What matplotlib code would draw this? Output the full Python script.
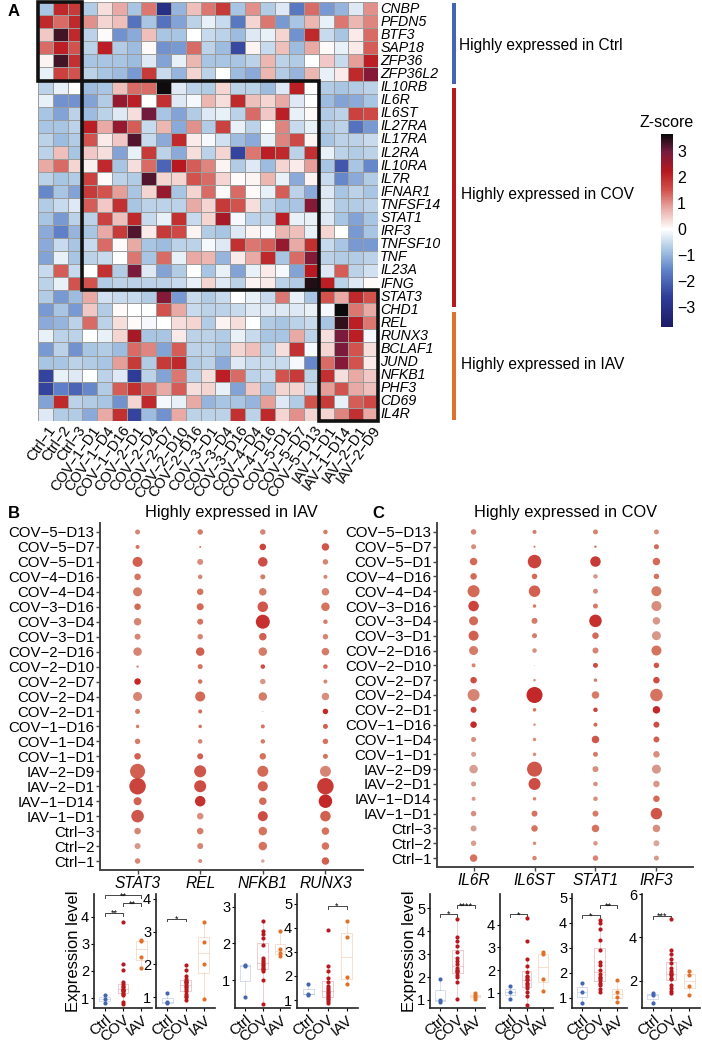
import numpy as np
import matplotlib
matplotlib.use('Agg')
import matplotlib.pyplot as plt
from matplotlib.colors import LinearSegmentedColormap
from matplotlib.patches import Rectangle

plt.rcParams['font.family'] = ['Liberation Sans', 'DejaVu Sans']

# ---------------- data ----------------
samples = ['Ctrl−1', 'Ctrl−2', 'Ctrl−3',
           'COV−1−D1', 'COV−1−D4', 'COV−1−D16', 'COV−2−D1', 'COV−2−D4', 'COV−2−D7',
           'COV−2−D10', 'COV−2−D16', 'COV−3−D1', 'COV−3−D4', 'COV−3−D16', 'COV−4−D4',
           'COV−4−D16', 'COV−5−D1', 'COV−5−D7', 'COV−5−D13',
           'IAV−1−D1', 'IAV−1−D14', 'IAV−2−D1', 'IAV−2−D9']

genes = ['CNBP', 'PFDN5', 'BTF3', 'SAP18', 'ZFP36', 'ZFP36L2',
         'IL10RB', 'IL6R', 'IL6ST', 'IL27RA', 'IL17RA', 'IL2RA', 'IL10RA', 'IL7R',
         'IFNAR1', 'TNFSF14', 'STAT1', 'IRF3', 'TNFSF10', 'TNF', 'IL23A', 'IFNG',
         'STAT3', 'CHD1', 'REL', 'RUNX3', 'BCLAF1', 'JUND', 'NFKB1', 'PHF3', 'CD69', 'IL4R']

zscore = [
    [-0.8, 2.0, 1.8, -0.7, 0.3, 0.8, -0.8, 1.2, -3.0, -1.0, 0.6, 1.2, 1.8, -0.8, 1.0, -0.7, -0.3, -1.7, 1.3, -1.3, -1.0, -0.3, 1.0],
    [2.0, 1.3, 2.0, 1.0, 0.4, 0.6, -1.8, -0.8, -1.8, -1.2, -0.6, -0.2, -0.5, -1.7, 0.4, 1.2, -1.3, -0.8, 0.7, -0.2, 1.2, 0.7, 1.1],
    [0.5, 3.3, 2.0, -0.6, 0.05, -1.4, -1.1, 0.6, -0.8, -0.8, 0.0, -0.5, -0.6, -0.9, -0.3, -0.2, 0.4, -1.4, 2.0, -0.5, -0.8, 0.2, 1.3],
    [1.3, 2.1, 1.5, -0.6, 2.1, -0.7, -0.9, 0.05, -1.4, -1.3, 1.3, -0.6, -0.9, -2.4, 0.1, -0.5, 0.6, -0.9, 0.8, 0.05, -0.2, 0.2, 1.4],
    [0.1, 3.3, 1.9, -0.8, -0.8, -0.8, -0.9, -0.3, -1.2, -0.2, 0.7, -0.8, -0.8, -0.8, -0.6, 0.7, -0.6, -0.7, 0.0, 0.5, -0.5, 0.9, 2.1],
    [-0.2, 1.7, 1.5, -0.6, -0.8, -0.9, -1.3, 1.8, -0.5, -1.0, 0.4, -0.6, 0.0, -0.9, -1.1, 0.7, -0.7, -1.0, 0.7, -0.2, 0.2, 2.0, 2.8],
    [-0.6, -0.2, 0.0, -0.9, -0.8, 0.6, 1.3, 1.3, 3.6, -0.3, -0.6, -0.7, 0.4, -0.6, -0.6, -0.9, -0.3, 2.1, 0.0, -0.7, -0.8, -0.7, -0.6],
    [-0.2, -1.4, -1.4, -1.2, -0.7, 2.6, 2.1, 0.0, 1.9, -0.3, -0.1, 0.7, 0.3, 2.0, 0.6, 0.4, 0.8, -0.3, 0.0, -0.9, -1.2, -1.1, -0.8],
    [-0.8, -1.2, -0.6, -0.9, -0.6, -0.3, 0.3, 3.0, -0.8, -1.2, -0.7, -0.3, -0.2, -0.6, 1.3, 0.5, 2.1, -0.2, 0.05, -0.7, -0.6, 1.7, 1.6],
    [-0.8, -0.8, -0.6, 2.1, 0.8, 2.6, 1.4, -0.5, 0.7, -1.1, 1.0, -0.7, 1.7, -0.2, -0.6, 0.0, 1.1, -0.5, -0.2, -0.7, -0.6, -1.8, -1.3],
    [-0.6, -0.9, -0.7, 1.5, 0.2, 0.5, 3.2, -0.5, -1.1, 2.0, 0.2, -0.1, -0.4, -0.9, -1.1, -0.2, 1.1, 1.6, 0.1, -0.8, -0.6, -0.6, -0.5],
    [-0.6, 0.6, -0.8, 0.5, 0.3, -1.2, -0.2, 1.8, -0.6, -1.1, 0.3, -0.6, 0.4, -2.5, 1.2, 2.1, 2.0, -0.6, 1.9, -0.2, -0.6, -0.7, -0.6],
    [0.8, 1.3, 0.4, 0.15, 2.0, -0.8, 0.3, 1.3, -2.0, 2.2, 1.4, 1.1, 0.1, -0.7, -0.3, -0.9, 0.4, 0.2, 0.9, -0.8, -2.2, -0.8, -1.5],
    [-0.6, -0.8, -0.7, 1.7, 0.05, -0.6, -0.7, 3.2, 0.4, 0.4, 1.5, 1.3, 0.4, 0.05, 0.1, 0.7, -0.2, -1.1, 0.1, -0.5, -1.5, -1.1, -0.7],
    [-1.5, -0.8, -1.2, 1.8, 1.5, 0.9, -0.8, 0.4, 2.6, -0.8, 0.4, 1.3, 0.05, 1.3, 0.05, -0.2, 1.4, -0.6, -1.1, -0.3, -0.8, -0.6, -0.8],
    [-0.7, -0.5, -0.3, 1.4, 0.5, 1.9, -0.8, -0.6, -0.6, -0.6, 0.8, 0.4, 1.8, 1.5, 0.3, -0.6, -0.8, -0.8, 2.8, -0.3, -0.7, -0.7, -0.6],
    [-0.8, -1.3, -0.6, -0.6, 1.7, 0.6, 2.0, -0.5, -0.2, 1.9, -0.5, 0.4, 2.4, -0.1, -0.6, -0.6, 2.1, -0.2, -0.2, -0.3, -0.8, -1.2, -0.8],
    [-1.1, -1.6, -1.0, -0.8, 0.8, 1.8, 3.2, 0.2, 1.8, 1.6, 0.1, -0.7, -0.8, -0.3, 0.1, -0.1, 0.7, 0.6, -0.2, 0.4, 0.0, -1.3, -0.8],
    [-1.1, -0.5, -0.8, -0.5, 1.3, 0.05, 0.8, -0.8, -0.9, -0.6, -0.6, -0.1, -0.3, 1.9, 1.2, 1.4, 2.6, 0.8, 1.9, -0.5, -0.8, -1.3, -1.3],
    [-1.2, -0.2, -0.8, -0.6, -0.5, 0.0, 1.2, -0.8, 1.3, -0.2, 0.8, 0.7, -1.0, 0.2, 0.8, 2.0, -0.8, 1.3, 2.8, -0.6, -0.7, -0.7, -0.6],
    [-0.5, 1.4, -0.5, 0.0, 1.9, -0.7, 2.9, -0.3, -1.2, -0.7, 0.0, -0.8, -0.2, -1.2, -0.2, 0.2, -0.1, -1.2, 2.2, -0.3, 1.4, -0.6, -0.4],
    [-0.6, -0.2, 1.5, 1.5, -0.7, -0.6, -0.6, -0.6, -0.6, -0.5, -0.2, 0.4, -0.3, -0.6, 0.1, 0.2, -0.6, -0.7, 3.5, 2.1, -0.6, -0.3, 0.05],
    [-0.7, -1.3, -0.9, 0.8, -0.4, -0.5, -0.5, -0.7, 2.8, -1.3, -0.5, -0.7, -0.5, 0.0, -0.2, -0.5, 1.2, -0.2, -0.8, 1.5, 0.8, 2.0, 1.5],
    [-1.3, -0.8, -1.3, 0.5, -0.7, 0.05, 0.0, 0.0, 1.5, 0.8, -0.5, -0.6, -0.6, -0.5, -0.3, -0.3, -0.3, -0.3, -0.2, -0.1, 3.7, 1.2, 0.8],
    [-1.1, -1.0, -0.6, 1.3, -0.6, 0.3, 0.05, -0.1, 0.0, 0.3, 0.4, -0.7, 0.1, 0.3, 0.0, -0.7, -0.8, -0.6, -0.5, -0.8, 3.4, 2.1, 1.2],
    [-0.2, -0.6, -0.6, 0.0, -0.2, 0.4, 2.4, -0.8, -0.8, 0.2, -0.6, -0.6, -0.7, -0.2, -0.5, -0.8, -0.8, 0.8, -0.6, 0.3, 2.9, 2.1, -0.1],
    [-1.3, -0.6, -1.4, -0.8, -0.7, -0.9, 1.3, 1.1, -1.2, 1.4, -0.6, -0.6, -0.8, 0.4, 0.6, -0.6, 0.3, 1.9, -0.1, 0.4, 2.9, 1.5, 0.3],
    [-0.8, -0.8, -0.6, -0.7, -0.8, 0.9, 1.8, -0.7, 1.8, 2.0, -0.7, -0.6, -1.1, -0.3, -0.5, -0.5, -0.5, -0.1, -1.5, 1.3, 2.8, 1.5, 0.2],
    [-2.5, -0.2, -0.3, 0.0, -0.6, -0.3, -2.6, -0.6, -1.2, 1.2, -0.6, 0.3, 2.1, 1.3, -0.6, -0.5, 1.5, 1.8, -0.6, 1.9, 0.3, 0.8, 0.5],
    [-2.5, -1.6, -2.0, -1.5, -0.7, 1.4, 1.9, 1.3, 0.8, 1.4, 0.3, 0.4, -0.2, -1.2, 0.5, -0.8, 0.4, 0.4, -0.5, 0.9, 1.5, 0.8, 0.6],
    [-1.2, 2.0, -0.6, -0.7, -0.8, -1.4, 0.4, 2.0, -0.1, -0.2, 0.8, -1.0, -0.8, -0.8, -1.0, 0.9, -0.3, -0.7, 1.5, 1.8, -0.2, 1.4, 1.6],
    [-0.3, -0.7, -0.7, -1.1, 0.8, 1.9, -2.5, -0.9, -1.4, 0.8, -0.6, -0.6, -0.6, 1.9, -0.6, 2.0, 0.4, 1.0, 0.4, 0.4, 1.1, 1.9, 0.8],
]

group_names = ['Ctrl', 'COV', 'IAV']
group_colors = ['#4466b0', '#b7191f', '#e0712a']
group_texts = ['Highly expressed in Ctrl', 'Highly expressed in COV', 'Highly expressed in IAV']

# dot plots: rows listed from top to bottom
dot_rows = ['COV−5−D13', 'COV−5−D7', 'COV−5−D1', 'COV−4−D16', 'COV−4−D4', 'COV−3−D16',
            'COV−3−D4', 'COV−3−D1', 'COV−2−D16', 'COV−2−D10', 'COV−2−D7', 'COV−2−D4',
            'COV−2−D1', 'COV−1−D16', 'COV−1−D4', 'COV−1−D1', 'IAV−2−D9', 'IAV−2−D1',
            'IAV−1−D14', 'IAV−1−D1', 'Ctrl−3', 'Ctrl−2', 'Ctrl−1']

iav_genes = ['STAT3', 'REL', 'NFKB1', 'RUNX3']
iav_size = {
    'STAT3': [5, 4, 10, 6.5, 9, 6.5, 7.5, 6, 8.5, 2.5, 6.5, 9, 5, 3.5, 5.5, 6.5, 15, 16.5, 8, 12.5, 6.5, 6, 5.5],
    'REL':   [5.5, 2, 6, 4.5, 6.5, 7, 6, 5.5, 8.5, 5, 4.5, 10, 4, 3.5, 4.5, 6, 12, 12, 10.5, 6.5, 6.5, 6, 4],
    'NFKB1': [5.5, 6.5, 9.5, 5, 7.5, 10.5, 14, 7.5, 8.5, 4.5, 5.5, 8.5, 1, 4, 4.5, 6.5, 11, 10, 7.5, 10, 8.5, 8.5, 3.5],
    'RUNX3': [4.5, 7.5, 5.5, 4, 7.5, 8.5, 4.5, 5.5, 7.5, 4.5, 4, 7.5, 5.5, 5, 5.5, 5, 11, 16.5, 13.5, 10.5, 7.5, 7.5, 7.5],
}
iav_expr = {
    'STAT3': [0.4, 0.5, 0.6, 0.5, 0.45, 0.55, 0.4, 0.4, 0.4, 0.3, 0.9, 0.4, 0.45, 0.45, 0.45, 0.6, 0.6, 0.75, 0.6, 0.65, 0.4, 0.3, 0.4],
    'REL':   [0.45, 0.5, 0.35, 0.4, 0.5, 0.55, 0.5, 0.4, 0.6, 0.5, 0.5, 0.55, 0.55, 0.5, 0.4, 0.6, 0.65, 0.7, 0.85, 0.35, 0.45, 0.4, 0.35],
    'NFKB1': [0.4, 0.75, 0.7, 0.45, 0.45, 0.65, 0.85, 0.6, 0.45, 0.7, 0.3, 0.45, 0.2, 0.5, 0.45, 0.5, 0.55, 0.6, 0.55, 0.7, 0.5, 0.5, 0.2],
    'RUNX3': [0.45, 0.65, 0.4, 0.4, 0.4, 0.5, 0.45, 0.4, 0.45, 0.55, 0.4, 0.35, 0.9, 0.6, 0.5, 0.5, 0.4, 0.8, 0.9, 0.6, 0.5, 0.5, 0.6],
}

cov_genes = ['IL6R', 'IL6ST', 'STAT1', 'IRF3']
cov_size = {
    'IL6R':  [5.5, 5, 7.5, 6.5, 12, 10.5, 9, 10, 9, 4, 6.5, 12, 6, 6.5, 5, 5, 8.5, 5, 4, 5.5, 6, 5.5, 7.5],
    'IL6ST': [4, 2, 13.5, 5.5, 11.5, 3.5, 6, 5, 4.5, 0.7, 2.5, 16, 3.5, 2.5, 3.5, 3.5, 15, 12, 3.5, 6, 6.5, 3.5, 4.5],
    'STAT1': [5, 2.5, 10.5, 4.5, 5, 5, 12.5, 6.5, 6, 5, 3.5, 7.5, 4.5, 4, 7.5, 5, 6, 4.5, 4.5, 6, 7.5, 4.5, 5.5],
    'IRF3':  [5, 5, 7.5, 5.5, 10, 10, 7.5, 9, 10, 5.5, 6.5, 12.5, 7.5, 6, 6, 6.5, 9, 6.5, 6.5, 11.5, 7.5, 6, 5],
}
cov_expr = {
    'IL6R':  [0.4, 0.35, 0.55, 0.55, 0.55, 0.75, 0.55, 0.6, 0.45, 0.4, 0.7, 0.4, 0.75, 0.9, 0.35, 0.25, 0.25, 0.3, 0.3, 0.35, 0.25, 0.25, 0.5],
    'IL6ST': [0.45, 0.5, 0.75, 0.55, 0.6, 0.45, 0.45, 0.45, 0.35, 0.3, 0.35, 0.9, 0.5, 0.35, 0.35, 0.35, 0.65, 0.7, 0.4, 0.5, 0.5, 0.35, 0.4],
    'STAT1': [0.4, 0.45, 0.8, 0.3, 0.35, 0.45, 0.85, 0.55, 0.4, 0.7, 0.45, 0.45, 0.75, 0.55, 0.65, 0.45, 0.35, 0.35, 0.35, 0.45, 0.5, 0.3, 0.4],
    'IRF3':  [0.35, 0.55, 0.55, 0.5, 0.45, 0.35, 0.3, 0.3, 0.5, 0.65, 0.7, 0.5, 0.9, 0.7, 0.6, 0.35, 0.3, 0.3, 0.55, 0.65, 0.35, 0.2, 0.3],
}

# expression level per group (Ctrl, COV, IAV)
box_data = {
    'STAT3': [[1.12, 0.98, 0.8],
              [3.8, 2.25, 2.05, 1.6, 1.5, 1.45, 1.35, 1.3, 1.25, 1.2, 1.15, 1.3, 1.4, 1.1, 0.85, 0.78],
              [3.15, 3.1, 2.5, 2.1]],
    'REL':   [[1.12, 0.85, 0.82],
              [1.97, 1.82, 1.65, 1.55, 1.5, 1.45, 1.45, 1.4, 1.35, 1.3, 1.25, 1.2, 1.1, 1.05, 1.0, 0.92],
              [3.3, 2.7, 2.0, 0.95]],
    'NFKB1': [[1.42, 1.38, 0.55],
              [2.6, 2.35, 2.25, 2.15, 1.95, 1.6, 1.55, 1.5, 1.45, 1.4, 1.35, 1.3, 1.3, 1.25, 1.0, 0.35],
              [2.35, 1.85, 1.75, 1.65]],
    'RUNX3': [[1.67, 1.27, 1.2],
              [3.9, 2.4, 2.2, 1.9, 1.75, 1.6, 1.5, 1.4, 1.35, 1.3, 1.2, 1.15, 1.1, 1.05, 0.95, 0.87],
              [4.3, 3.6, 1.95, 1.65]],
    'IL6R':  [[1.9, 1.0, 0.92],
              [4.53, 3.75, 3.55, 3.35, 3.1, 2.85, 2.7, 2.55, 2.4, 2.3, 2.25, 2.2, 2.1, 2.0, 1.8, 1.05],
              [1.3, 1.2, 1.15, 1.05]],
    'IL6ST': [[1.3, 1.05, 0.72],
              [4.3, 3.3, 2.5, 2.2, 1.9, 1.75, 1.7, 1.6, 1.55, 1.45, 1.4, 1.3, 1.2, 1.05, 0.85, 0.45],
              [2.8, 2.7, 1.6, 1.1]],
    'STAT1': [[1.6, 1.25, 0.8],
              [4.1, 4.0, 3.75, 3.3, 2.9, 2.45, 2.3, 2.1, 1.95, 1.85, 1.8, 1.7, 1.6, 1.5, 1.35, 1.25],
              [1.7, 1.25, 1.05, 0.85]],
    'IRF3':  [[1.45, 1.35, 1.0],
              [4.85, 3.4, 3.25, 3.0, 2.8, 2.6, 2.45, 2.35, 2.3, 2.25, 2.15, 2.1, 1.8, 1.65, 1.55, 1.45],
              [2.45, 2.25, 1.75, 1.35]],
}
# significance: (group a, group b, height, label)
box_sig = {
    'STAT3': [(1, 2, 4.15, '**'), (2, 3, 4.5, '**'), (1, 3, 4.8, '**')],
    'REL':   [(1, 2, 3.4, '*')],
    'NFKB1': [],
    'RUNX3': [(2, 3, 4.9, '*')],
    'IL6R':  [(1, 2, 4.75, '*'), (2, 3, 5.13, '****')],
    'IL6ST': [(1, 2, 4.45, '*')],
    'STAT1': [(1, 2, 4.3, '*'), (2, 3, 4.7, '**')],
    'IRF3':  [(1, 2, 5.0, '***')],
}

# ---------------- layout helpers ----------------
W, H = 702, 1043
fig = plt.figure(figsize=(W / 100, H / 100), dpi=100)


def px_axes(x0, y0, x1, y1):
    return fig.add_axes([x0 / W, 1 - y1 / H, (x1 - x0) / W, (y1 - y0) / H])


# ---------------- A: heatmap ----------------
z = np.array(zscore)
vmin, vmax = -3.75, 3.65
stops = [(-3.75, '#1b1b66'), (-2.6, '#2f3c99'), (-1.6, '#5f80c8'), (-0.8, '#a7c5e3'),
         (0.0, '#ffffff'), (0.8, '#e9aaa5'), (1.5, '#d2524d'), (2.2, '#b8181f'),
         (3.0, '#741b3e'), (3.65, '#0a0a0a')]
hm_cmap = LinearSegmentedColormap.from_list(
    'zs', [((v - vmin) / (vmax - vmin), c) for v, c in stops])

ax = px_axes(38, 2, 378, 421)
mesh = ax.pcolormesh(np.arange(len(samples) + 1), np.arange(len(genes) + 1), z,
                     cmap=hm_cmap, vmin=vmin, vmax=vmax,
                     edgecolors='#9c9c9c', linewidth=0.7)
ax.set_xlim(0, len(samples))
ax.set_ylim(len(genes), 0)
ax.axis('off')

# cluster boxes
n_s = [3, 16, 4]
n_g = [6, 16, 10]
cs, gs = 0, 0
for k in range(3):
    ax.add_patch(Rectangle((cs, gs), n_s[k], n_g[k], fill=False, ec='#111111',
                           lw=2.6, clip_on=False, zorder=5))
    cs += n_s[k]
    gs += n_g[k]

for i, g in enumerate(genes):
    ax.text(len(samples) + 0.15, i + 0.5, g, style='italic', ha='left', va='center',
            fontsize=10.2)
for j, s in enumerate(samples):
    ax.text(j + 0.6, len(genes) + 0.2, s, rotation=55, ha='right', va='top',
            rotation_mode='anchor', fontsize=10.5)

# side annotation bars
bar_spans = [(0.05, 6.3), (6.6, 23.3), (23.7, 31.9)]
text_rows = [3.3, 14.7, 27.7]
for k in range(3):
    y0, y1 = bar_spans[k]
    ax.add_patch(Rectangle((28.0, y0), 0.28, y1 - y0, color=group_colors[k],
                           clip_on=False, lw=0))
    ax.text(28.5 if k == 0 else 28.6, text_rows[k], group_texts[k], ha='left',
            va='center', fontsize=11.2, clip_on=False)

cax = px_axes(661, 134, 673, 327)
cb = fig.colorbar(mesh, cax=cax, ticks=[-3, -2, -1, 0, 1, 2, 3])
cb.outline.set_visible(False)
cb.ax.set_yticklabels(['−3', '−2', '−1', '0', '1', '2', '3'])
cax.tick_params(length=0, labelsize=11.5, pad=3)
cax.set_title('Z-score', fontsize=11.5, pad=5)

fig.text(8 / W, 1 - 12 / H, 'A', fontsize=12, fontweight='bold', va='center')
fig.text(8 / W, 1 - 513 / H, 'B', fontsize=12, fontweight='bold', va='center')
fig.text(372 / W, 1 - 513 / H, 'C', fontsize=12, fontweight='bold', va='center')

# ---------------- B / C: dot plots ----------------
dot_cmap = LinearSegmentedColormap.from_list('dot', ['#dacbca', '#d5735f', '#c0141b'])


def dot_plot(axd, gene_list, sizes, exprs, title):
    n = len(dot_rows)
    for gi, g in enumerate(gene_list):
        ys = n - 1 - np.arange(n)
        d = np.array(sizes[g])
        axd.scatter(np.full(n, gi), ys, s=(d * 0.72) ** 2, c=exprs[g], cmap=dot_cmap,
                    vmin=0, vmax=1, linewidths=0)
    axd.set_xlim(-0.6, len(gene_list) - 0.4)
    axd.set_ylim(-0.6, n - 0.4)
    axd.set_yticks(n - 1 - np.arange(n))
    axd.set_yticklabels(dot_rows, fontsize=10.8)
    axd.set_xticks(range(len(gene_list)))
    axd.set_xticklabels(gene_list, fontsize=11.2, style='italic')
    for sp in ['top', 'right']:
        axd.spines[sp].set_visible(False)
    for sp in ['left', 'bottom']:
        axd.spines[sp].set_color('#444444')
        axd.spines[sp].set_linewidth(1.4)
    axd.tick_params(length=3, width=1, color='#444444', pad=1)
    axd.set_title(title, fontsize=11.8, pad=4)


axB = px_axes(100, 523, 363, 870)
dot_plot(axB, iav_genes, iav_size, iav_expr, 'Highly expressed in IAV')
axC = px_axes(437, 523, 693, 867)
dot_plot(axC, cov_genes, cov_size, cov_expr, 'Highly expressed in COV')

# ---------------- box plots ----------------
box_axes = {
    'STAT3': ((94, 894, 152, 1008), (0.63, 4.85), [1, 2, 3, 4]),
    'REL':   ((156, 894, 215, 1008), (0.67, 4.15), [1, 2, 3, 4]),
    'NFKB1': ((235, 894, 290, 1008), (0.24, 3.35), [1, 2, 3]),
    'RUNX3': ((297, 894, 358, 1008), (0.67, 5.4), [1, 2, 3, 4, 5]),
    'IL6R':  ((430, 894, 485, 1008), (0.65, 5.62), [1, 2, 3, 4, 5]),
    'IL6ST': ((500, 894, 553, 1008), (0.33, 5.35), [1, 2, 3, 4]),
    'STAT1': ((572, 894, 627, 1008), (0.6, 5.15), [1, 2, 3, 4, 5]),
    'IRF3':  ((642, 894, 700, 1008), (0.75, 6.0), [2, 4, 6]),
}

for g, (rect, ylim, yt) in box_axes.items():
    axb = px_axes(*rect)
    groups = box_data[g]
    bp = axb.boxplot(groups, positions=[1, 2, 3], widths=0.6, showfliers=False,
                     whis=1.5)
    for k in range(3):
        col = group_colors[k]
        for line in bp['whiskers'][2 * k:2 * k + 2]:
            line.set(color=col, alpha=0.25, lw=0.6)
        for c in bp['caps'][2 * k:2 * k + 2]:
            c.set_visible(False)
        bp['boxes'][k].set(color=col, alpha=0.25, lw=0.6)
        bp['medians'][k].set(color=col, alpha=0.25, lw=0.6)
        axb.scatter(np.full(len(groups[k]), k + 1), groups[k], s=9, color=col,
                    zorder=3, linewidths=0)
    span = ylim[1] - ylim[0]
    for a, b, h, lab in box_sig[g]:
        tick = 0.025 * span
        axb.plot([a, a, b, b], [h - tick, h, h, h - tick], color='#444444', lw=0.7)
        axb.text((a + b) / 2, h - 0.045 * span, lab, ha='center', va='bottom',
                 fontsize=6.5)
    axb.set_xlim(0.4, 3.6)
    axb.set_ylim(*ylim)
    axb.set_yticks(yt)
    axb.set_yticklabels([str(t) for t in yt], fontsize=10.5)
    axb.set_xticks([1, 2, 3])
    axb.set_xticklabels(group_names, rotation=40, ha='right', rotation_mode='anchor',
                        fontsize=10.8)
    for sp in ['top', 'right']:
        axb.spines[sp].set_visible(False)
    for sp in ['left', 'bottom']:
        axb.spines[sp].set_color('#222222')
        axb.spines[sp].set_linewidth(1.2)
    axb.tick_params(length=2.5, width=0.8, pad=1)
    if g in ('STAT3', 'IL6R'):
        axb.set_ylabel('Expression level', fontsize=12, labelpad=0)

fig.savefig('out.png', dpi=100)
